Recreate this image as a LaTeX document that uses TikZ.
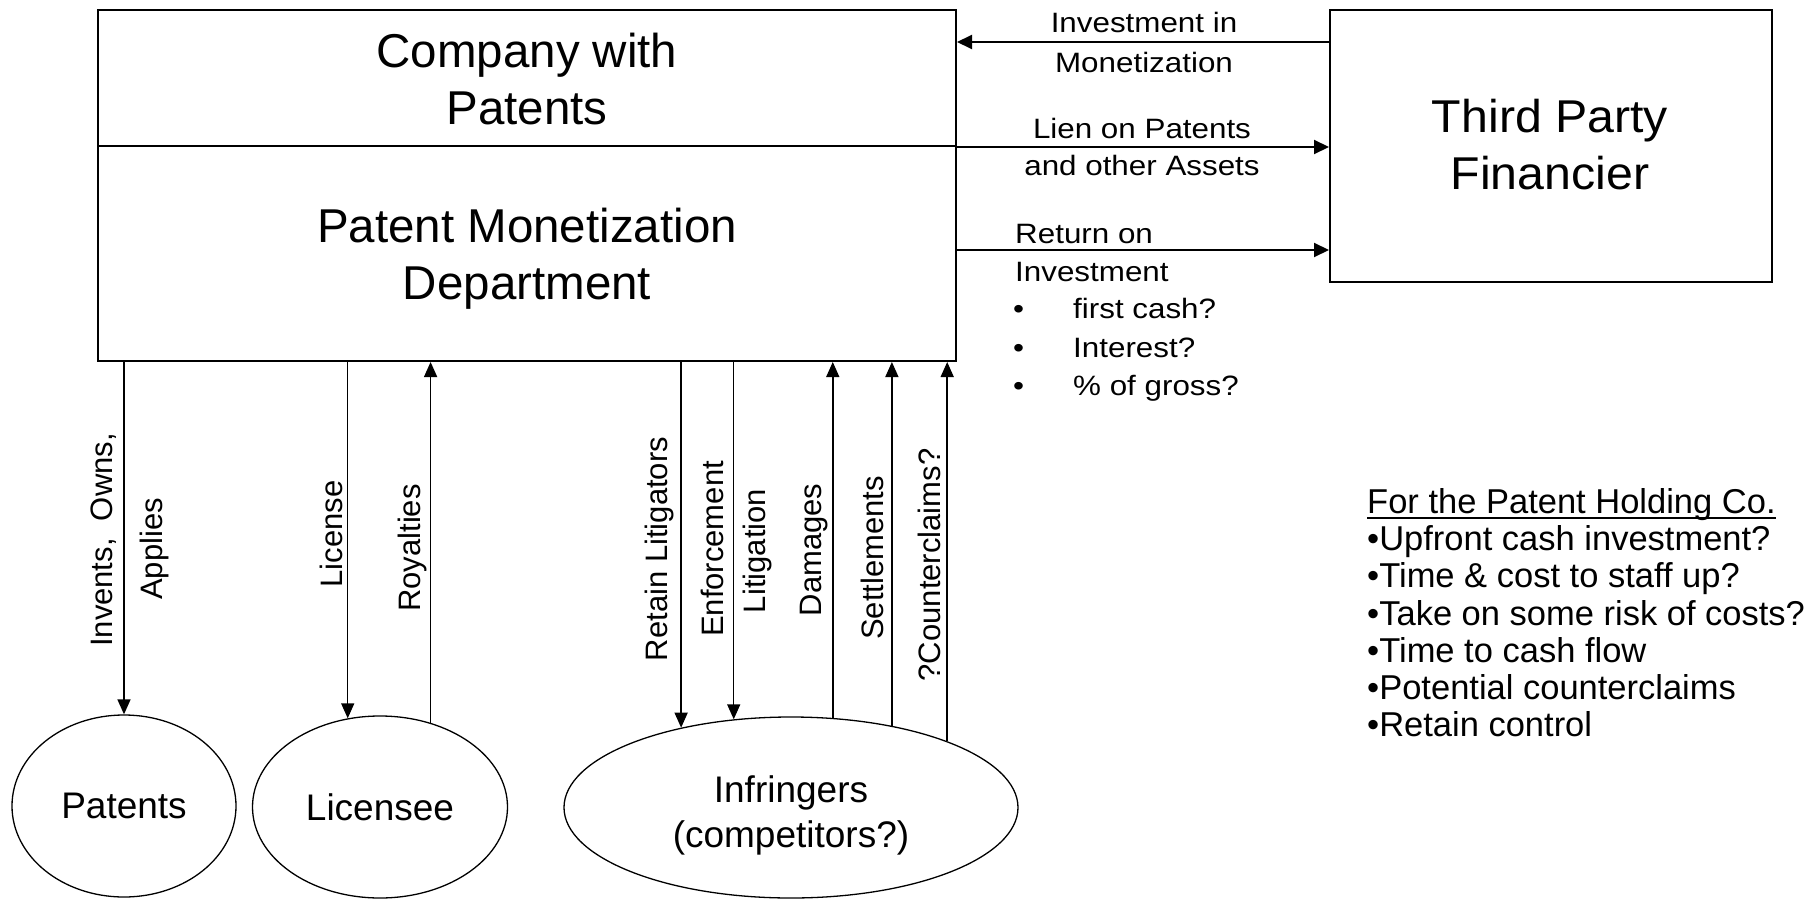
\documentclass[tikz,border=0pt]{standalone}
\usepackage{fontspec}
\setmainfont{Liberation Sans}
\usetikzlibrary{arrows.meta,shapes.geometric}
\newcommand{\hstretch}[1]{\scalebox{1.12}[1]{#1}}
\begin{document}
\begin{tikzpicture}[x=1pt,y=-1pt,
  box/.style={draw, line width=2pt, inner sep=0pt},
  ell/.style={draw, ellipse, line width=1.3pt, inner sep=0pt, font=\fontsize{37}{45}\selectfont},
  big/.style={font=\fontsize{47.5}{57}\selectfont, align=center, inner sep=0pt},
  harr/.style={line width=2pt, -{Triangle[length=15pt,width=14pt]}},
  varr/.style={line width=1.5pt, -{Triangle[length=15pt,width=13pt]}},
  mlab/.style={font=\fontsize{28}{34}\selectfont, inner sep=0pt, anchor=base},
  llab/.style={font=\fontsize{28}{34}\selectfont, inner sep=0pt, anchor=base west},
  rlab/.style={font=\fontsize{31}{37}\selectfont, inner sep=0pt, anchor=base, rotate=90}]
\useasboundingbox (0,0) rectangle (1808,899);
% boxes
\node[box, minimum width=858pt, minimum height=136pt] (cwp) at (527,78) {};
\node[box, minimum width=858pt, minimum height=215pt] (pmd) at (527,253.5) {};
\node[box, minimum width=442pt, minimum height=272pt] (tpf) at (1551,146) {};
\node[big] (cwpt) at (527,79) {Company with\\Patents};
\node[big] (pmdt) at (527,259) {Patent Monetization\\Department};
\node[font=\fontsize{46}{57}\selectfont, align=center, inner sep=0pt] (tpft) at (1550,145) {\scalebox{1.05}[1]{Third Party}\\\scalebox{1.05}[1]{Financier}};
% ellipses
\node[ell, minimum width=224pt, minimum height=182pt] (pat) at (124,806) {Patents};
\node[ell, minimum width=255pt, minimum height=182pt] (lic) at (380,807) {Licensee};
\node[ell, minimum width=454pt, minimum height=181pt] (inf) at (791,807.5) {};
\node[font=\fontsize{37}{45}\selectfont, align=center, inner sep=0pt] (inft) at (791,815) {Infringers\\(competitors?)};
% horizontal connectors
\draw[harr] (tpf.west |- 0,42) -- (cwp.east |- 0,42);
\draw[harr] (cwp.south east) -- (cwp.south east -| tpf.west);
\draw[harr] (pmd.east |- 0,250) -- (tpf.west |- 0,250);
% vertical connectors
\draw[varr] (pmd.south -| pat.north) -- (pat.north);
\draw[varr] (pmd.south -| lic.110) -- (lic.110);
\draw[varr] (lic.59) -- (lic.59 |- pmd.south);
\draw[varr] (pmd.south -| inf.144) -- (inf.144);
\draw[varr] (pmd.south -| inf.123) -- (inf.123);
\draw[varr] (inf.65) -- (inf.65 |- pmd.south);
\draw[varr] (inf.39) -- (inf.39 |- pmd.south);
\draw[varr] (inf.23) -- (inf.23 |- pmd.south);
% labels of horizontal connectors
\node[mlab] (li1) at (1144,33) {\hstretch{Investment in}};
\node[mlab] (li2) at (1144,73) {\hstretch{Monetization}};
\node[mlab] (ll1) at (1142,138) {\hstretch{Lien on Patents}};
\node[mlab] (ll2) at (1142,175) {\hstretch{and other Assets}};
\node[llab] (lr1) at (1015,243) {\hstretch{Return on}};
\node[llab] (lr2) at (1015,281) {\hstretch{Investment}};
\node[llab] (b1) at (1013,318) {\hstretch{\textbullet}};
\node[llab] (b2) at (1013,357) {\hstretch{\textbullet}};
\node[llab] (b3) at (1013,395) {\hstretch{\textbullet}};
\node[llab] (lr3) at (1073,318) {\hstretch{first cash?}};
\node[llab] (lr4) at (1073,357) {\hstretch{Interest?}};
\node[llab] (lr5) at (1073,395) {\hstretch{\% of gross?}};
% labels of vertical connectors
\node[rlab] (v1) at (112,540) {Invents,\ \ Owns,};
\node[rlab] (v2) at (162,549) {Applies};
\node[rlab] (v3) at (342,534) {License};
\node[rlab] (v4) at (420,548) {Royalties};
\node[rlab] (v5) at (667,549) {Retain Litigators};
\node[rlab] (v6) at (723,549) {Enforcement};
\node[rlab] (v7) at (765,551) {Litigation};
\node[rlab] (v8) at (821,550) {Damages};
\node[rlab] (v9) at (883,558) {Settlements};
\node[rlab] (v10) at (940,565) {?Counterclaims?};
% right list
\node[anchor=base west, inner sep=0pt, font=\fontsize{34.5}{37.3}\selectfont] (hd) at (1367,513) {For the Patent Holding Co.};
\draw[line width=1.5pt] ([yshift=-5pt]hd.base west) -- ([yshift=-5pt]hd.base east);
\node[anchor=north west, inner sep=0pt, align=left, font=\fontsize{34.5}{37.3}\selectfont] (lst) at (1367,525.2) {\textbullet Upfront cash investment?\\\textbullet Time \& cost to staff up?\\\textbullet Take on some risk of costs?\\\textbullet Time to cash flow\\\textbullet Potential counterclaims\\\textbullet Retain control};
\end{tikzpicture}
\end{document}
